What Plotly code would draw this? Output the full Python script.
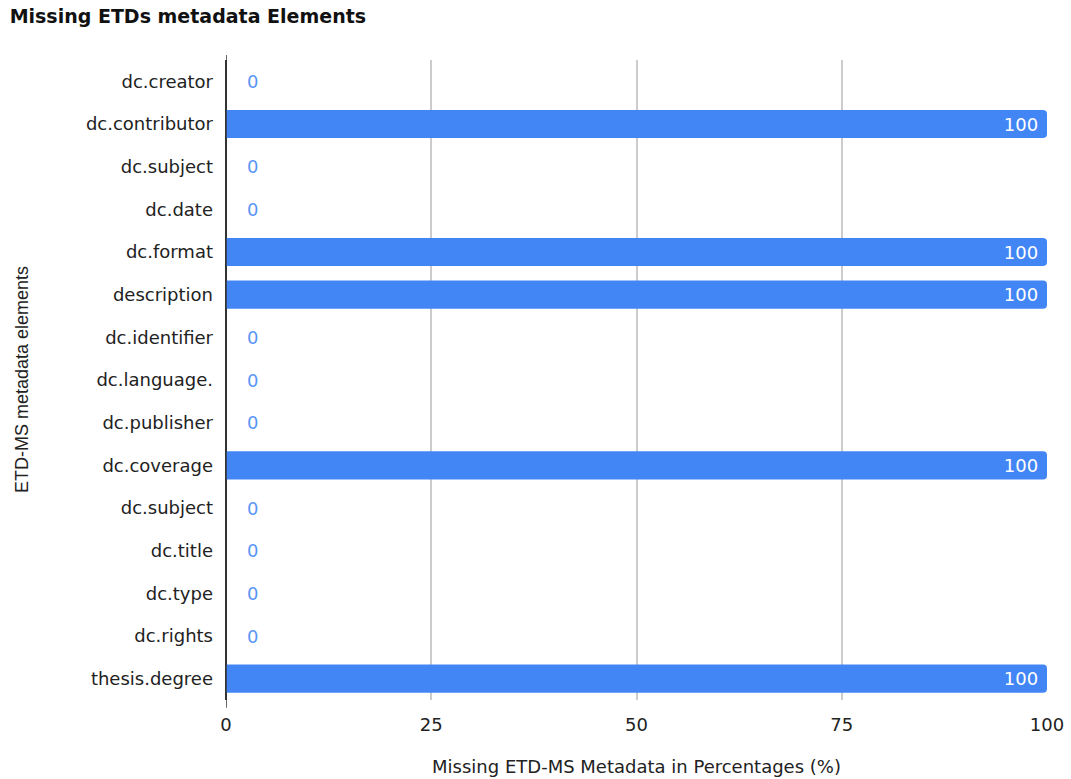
import plotly.graph_objects as go

categories = ["dc.creator", "dc.contributor", "dc.subject", "dc.date", "dc.format",
              "description", "dc.identifier", "dc.language.", "dc.publisher", "dc.coverage",
              "dc.subject", "dc.title", "dc.type", "dc.rights", "thesis.degree"]
values = [0, 100, 0, 0, 100, 100, 0, 0, 0, 100, 0, 0, 0, 0, 100]
x_ticks = [0, 25, 50, 75, 100]

FONT = "DejaVu Sans"
BLUE = "#4285F4"
LABEL_BLUE = "#5b95f6"

pos = list(range(len(categories)))

fig = go.Figure()
fig.add_trace(go.Bar(
    x=values, y=pos, orientation="h",
    marker=dict(color=BLUE, line=dict(width=0)),
    text=[(str(v) + "\u00a0") if v > 0 else "" for v in values],
    textposition="inside", insidetextanchor="end",
    insidetextfont=dict(family=FONT, size=18, color="white"),
    hoverinfo="skip",
))

annotations = []
for p, v in zip(pos, values):
    if v == 0:
        annotations.append(dict(x=v, y=p, xref="x", yref="y", text=str(v),
                                showarrow=False, xanchor="left", xshift=19,
                                font=dict(family=FONT, size=18, color=LABEL_BLUE)))

annotations.append(dict(x=0, y=0.5, xref="paper", yref="paper", text="ETD-MS metadata elements",
                        textangle=-90, showarrow=False, xanchor="center", yanchor="middle",
                        xshift=-204, font=dict(family="Liberation Sans Narrow, Liberation Sans, Arial", size=18, color="#222")))

fig.update_layout(
    width=1071, height=779,
    paper_bgcolor="white", plot_bgcolor="white",
    margin=dict(l=226, r=24, t=60, b=79, autoexpand=False),
    bargap=0.34,
    barcornerradius=4,
    showlegend=False,
    title=dict(text="<b>Missing ETDs metadata Elements</b>", x=0.009, xanchor="left",
               y=0.979, yanchor="middle", automargin=False,
               font=dict(family=FONT, size=19, color="#111")),
    annotations=annotations,
    shapes=[dict(type="line", xref="x", yref="paper", x0=0, x1=0, y0=-0.012, y1=1.008,
                 line=dict(color="#333333", width=1.5), layer="above")],
    xaxis=dict(range=[0, 100], tickvals=x_ticks, ticktext=[str(t) for t in x_ticks],
               automargin=False,
               showgrid=True, gridcolor="#cccccc", gridwidth=1.5,
               zeroline=True, zerolinecolor="#333333", zerolinewidth=1.5,
               showline=False, ticks="", ticklabelstandoff=12,
               tickfont=dict(family=FONT, size=18, color="#222"),
               title=dict(text="Missing ETD-MS Metadata in Percentages (%)", standoff=26,
                          font=dict(family=FONT, size=18, color="#222"))),
    yaxis=dict(tickvals=pos, ticktext=categories,
               automargin=False,
               showgrid=False, zeroline=False, showline=False, ticks="",
               ticklabelstandoff=12,
               tickfont=dict(family=FONT, size=18, color="#222")),
)
fig.update_yaxes(autorange=False, range=[len(categories) - 0.5, -0.5])

fig.write_html("out.html", config={"displayModeBar": False},
               post_script="document.body.style.margin='0';document.body.style.overflow='hidden';")
